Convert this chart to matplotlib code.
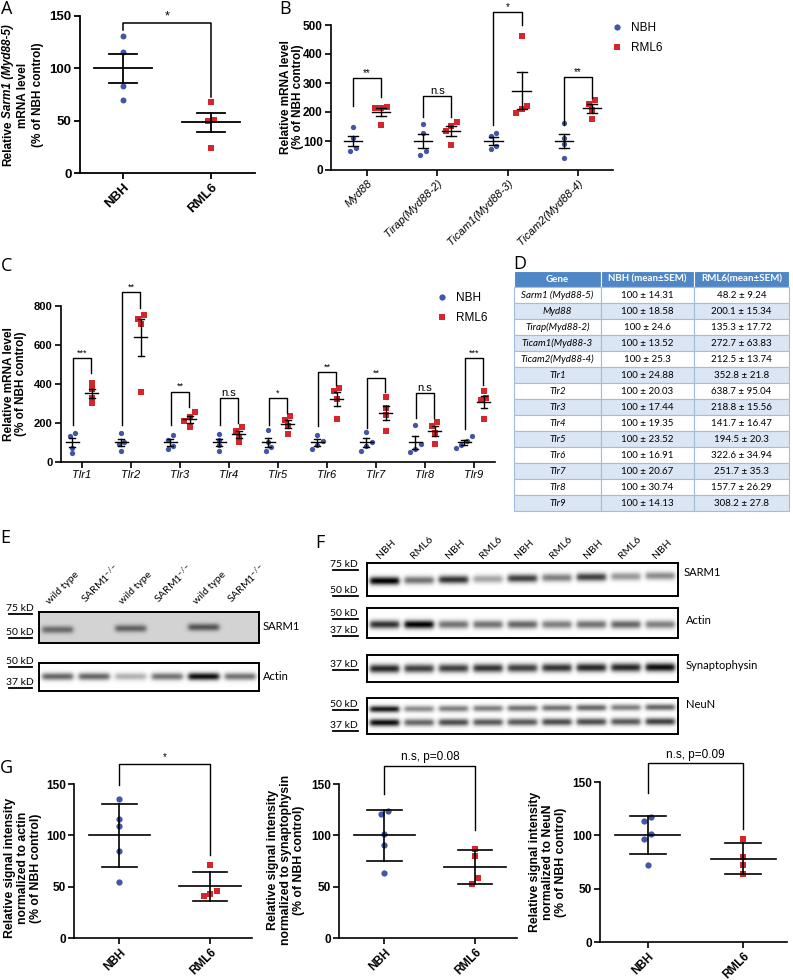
import numpy as np
import matplotlib
matplotlib.use('Agg')
import matplotlib.pyplot as plt
from matplotlib.lines import Line2D

plt.rcParams['font.family'] = ['Liberation Sans', 'DejaVu Sans']
plt.rcParams['mathtext.fontset'] = 'custom'
plt.rcParams['mathtext.rm'] = 'Lato'
plt.rcParams['mathtext.it'] = 'Lato:italic'
plt.rcParams['mathtext.bf'] = 'Lato:bold'

BLUE = '#4355a6'
RED = '#d4262c'

# ---------------- data ----------------
groups = ['NBH', 'RML6']

# A: Sarm1 mRNA
sarm1_nbh = [131, 116, 83, 70]
sarm1_rml6 = [68, 51, 50, 24]

# B: Myd88 family
myd_genes = ['Myd88', 'Tirap(Myd88-2)', 'Ticam1(Myd88-3)', 'Ticam2(Myd88-4)']
myd_nbh = [[147, 112, 77, 64], [157, 126, 64, 53], [128, 116, 82, 74], [162, 110, 88, 40]]
myd_rml6 = [[218, 214, 213, 155], [167, 153, 136, 86], [463, 222, 209, 198], [240, 228, 207, 175]]
myd_sig = ['**', 'n.s', '*', '**']
myd_brk = [(316, 220, 250), (255, 184, 184), (545, 155, 500), (322, 155, 248)]

# C: Toll-like receptors
tlr_genes = ['Tlr1', 'Tlr2', 'Tlr3', 'Tlr4', 'Tlr5', 'Tlr6', 'Tlr7', 'Tlr8', 'Tlr9']
tlr_nbh = [[150, 132, 73, 45], [150, 100, 92, 58], [140, 115, 80, 65], [145, 112, 85, 58],
           [162, 105, 78, 55], [140, 110, 85, 65], [155, 105, 82, 58], [190, 92, 66, 52],
           [135, 110, 85, 70]]
tlr_rml6 = [[405, 375, 330, 301], [755, 735, 708, 357], [255, 232, 210, 178], [178, 160, 129, 100],
            [235, 215, 185, 143], [378, 365, 325, 222], [335, 275, 240, 157], [205, 185, 150, 91],
            [364, 330, 320, 219]]
tlr_sig = ['***', '**', '**', 'n.s', '*', '**', '**', 'n.s', '***']
tlr_brk = [(532, 190, 456), (870, 190, 790), (360, 190, 284), (327, 190, 200), (327, 190, 250),
           (460, 185, 395), (429, 172, 360), (352, 224, 224), (532, 170, 395)]

# D: table
table_header = ['Gene', 'NBH (mean±SEM)', 'RML6(mean±SEM)']
table_genes = ['Sarm1 (Myd88-5)', 'Myd88', 'Tirap(Myd88-2)', 'Ticam1(Myd88-3', 'Ticam2(Myd88-4)',
               'Tlr1', 'Tlr2', 'Tlr3', 'Tlr4', 'Tlr5', 'Tlr6', 'Tlr7', 'Tlr8', 'Tlr9']
table_nbh = ['100 ± 14.31', '100 ± 18.58', '100 ± 24.6', '100 ± 13.52', '100 ± 25.3', '100 ± 24.88',
             '100 ± 20.03', '100 ± 17.44', '100 ± 19.35', '100 ± 23.52', '100 ± 16.91', '100 ± 20.67',
             '100 ± 30.74', '100 ± 14.13']
table_rml6 = ['48.2 ± 9.24', '200.1 ± 15.34', '135.3 ± 17.72', '272.7 ± 63.83', '212.5 ± 13.74',
              '352.8 ± 21.8', '638.7 ± 95.04', '218.8 ± 15.56', '141.7 ± 16.47', '194.5 ± 20.3',
              '322.6 ± 34.94', '251.7 ± 35.3', '157.7 ± 26.29', '308.2 ± 27.8']

# E: blots (band darkness per lane)
e_lanes = ['wild type', 'SARM1$^{-/-}$'] * 3
e_sarm1 = [0.42, 0.0, 0.45, 0.0, 0.5, 0.0]
e_actin = [0.6, 0.6, 0.3, 0.55, 0.95, 0.55]

# F: blots
f_lanes = ['NBH', 'RML6', 'NBH', 'RML6', 'NBH', 'RML6', 'NBH', 'RML6', 'NBH']
f_sarm1 = [1.0, 0.55, 0.8, 0.35, 0.75, 0.5, 0.75, 0.4, 0.45]
f_actin = [0.8, 1.0, 0.55, 0.55, 0.6, 0.5, 0.55, 0.6, 0.5]
f_syn = [0.85, 0.75, 0.75, 0.8, 0.75, 0.8, 0.85, 0.85, 0.95]
f_neun_up = [0.9, 0.45, 0.5, 0.5, 0.55, 0.55, 0.6, 0.5, 0.6]
f_neun_low = [0.95, 0.6, 0.7, 0.65, 0.65, 0.7, 0.7, 0.65, 0.75]

# G: quantification (mean +/- SD)
actin_nbh = [135, 116, 109, 85, 55]
actin_rml6 = [71, 46, 43, 41]
syn_nbh = [124, 121, 101, 91, 63]
syn_rml6 = [87, 80, 58, 53]
neun_nbh = [117, 113, 101, 97, 72]
neun_rml6 = [97, 80, 72, 64]
g_sig = ['*', 'n.s, p=0.08', 'n.s, p=0.09']

# ---------------- helpers ----------------
W, H = 793, 980
fig = plt.figure(figsize=(W / 100, H / 100), dpi=100)


def rect(l, t, r, b):
    return [l / W, 1 - b / H, (r - l) / W, (b - t) / H]


def fx(x):
    return x / W


def fy(y):
    return 1 - y / H


def swarm(vals, thr, step):
    vals = np.asarray(vals, float)
    order = np.argsort(vals)
    off = np.zeros(len(vals))
    grp = [[order[0]]]
    for i in order[1:]:
        if vals[i] - vals[grp[-1][-1]] < thr:
            grp[-1].append(i)
        else:
            grp.append([i])
    for g in grp:
        for j, i in enumerate(g):
            off[i] = (j - (len(g) - 1) / 2) * step
    return off


def dots(ax, x, vals, color, marker, ms, thr, step, half, cap, lw, err='sem'):
    vals = np.asarray(vals, float)
    m = vals.mean()
    e = vals.std(ddof=1)
    if err == 'sem':
        e = e / np.sqrt(len(vals))
    ax.plot(x + swarm(vals, thr, step), vals, ls='', marker=marker, color=color, ms=ms,
            mew=0, zorder=2, clip_on=False)
    ax.plot([x - half, x + half], [m, m], color='k', lw=lw, zorder=3)
    ax.plot([x, x], [m - e, m + e], color='k', lw=lw, zorder=3)
    for yv in (m - e, m + e):
        ax.plot([x - cap, x + cap], [yv, yv], color='k', lw=lw, zorder=3)


def bracket(ax, x0, x1, top, l, r, label, size, pad=0.5, lw=1.0):
    ax.plot([x0, x0, x1, x1], [l, top, top, r], color='k', lw=lw, clip_on=False)
    ax.annotate(label, (0.5 * (x0 + x1), top), xytext=(0, pad), textcoords='offset points',
                ha='center', va='bottom', fontsize=size, annotation_clip=False)


def style(ax, ylim, yticks, lw, tsize):
    for s in ['top', 'right']:
        ax.spines[s].set_visible(False)
    ax.spines['left'].set_linewidth(lw)
    ax.spines['bottom'].set_linewidth(lw)
    ax.set_ylim(ylim)
    ax.set_yticks(yticks)
    ax.tick_params(width=lw, length=4, labelsize=tsize, pad=2)
    for t in ax.get_yticklabels():
        t.set_fontweight('bold')
    ax.patch.set_alpha(0)


def letter(x, y, s):
    fig.text(fx(x), fy(y), s, fontsize=13, family='Open Sans', va='top', ha='left')


def ylab(xc, yc, s, size, ls=1.1):
    fig.text(fx(xc), fy(yc), s, rotation=90, ha='center', va='center', fontsize=size,
             fontweight='bold', linespacing=ls, multialignment='center')


def blot(box, bands, bg=0.0):
    ax = fig.add_axes(rect(*box))
    n = len(bands[0][0])
    xs = np.linspace(0, n, n * 40)
    ys = np.linspace(0, 1, 90)
    X, Y = np.meshgrid(xs, ys)
    img = np.full(X.shape, bg)
    for inten, yc, sy, tilt in bands:
        for i, v in enumerate(inten):
            lane = 1 / (1 + np.exp((np.abs(X - (i + 0.5)) - 0.42) / 0.035))
            c = yc + tilt * (i / (n - 1) - 0.5)
            img += v * lane * np.exp(-((Y - c) / sy) ** 2)
    ax.imshow(np.clip(img, 0, 1), cmap='gray_r', vmin=0, vmax=1, aspect='auto',
              extent=(0, n, 1, 0), interpolation='bilinear')
    ax.set_xticks([])
    ax.set_yticks([])
    for s in ax.spines.values():
        s.set_linewidth(1.4)
    return ax


def kd(x0, x1, y, s):
    fig.text(fx(x0), fy(y - 1), s, fontsize=7.5, family='Lato', ha='left', va='bottom')
    fig.add_artist(Line2D([fx(x0 + 3), fx(x1)], [fy(y), fy(y)], color='k', lw=1.3))


# ---------------- A ----------------
axA = fig.add_axes(rect(80, 16, 255, 173))
dots(axA, 0, sarm1_nbh, BLUE, 'o', 4.3, 6, 0.07, 0.33, 0.16, 1.3)
dots(axA, 1, sarm1_rml6, RED, 's', 4.3, 6, 0.07, 0.33, 0.16, 1.3)
style(axA, (0, 150), [0, 50, 100, 150], 1.3, 9.5)
axA.set_xlim(-0.49, 1.5)
axA.set_xticks([0, 1])
axA.set_xticklabels(groups, rotation=45, ha='right', rotation_mode='anchor',
                    fontweight='bold', fontsize=9.5)
bracket(axA, 0, 1, 143, 137, 73, '*', 9, lw=1.1)
# composite y label with italic gene name
r = fig.canvas.get_renderer()
t1 = fig.text(fx(8), 0, 'Relative', rotation=90, ha='center', va='bottom', fontsize=8.5,
              fontweight='bold')
t2 = fig.text(fx(8), 0, 'Sarm1 (Myd88-5)', rotation=90, ha='center', va='bottom', fontsize=8.5,
              fontweight='bold', fontstyle='italic')
h1 = t1.get_window_extent(r).height
h2 = t2.get_window_extent(r).height
gap = 3
y0 = (H - 95) - (h1 + h2 + gap) / 2
t1.set_y(y0 / H)
t2.set_y((y0 + h1 + gap) / H)
fig.text(fx(23), fy(95), 'mRNA level', rotation=90, ha='center', va='center', fontsize=8.5,
         fontweight='bold')
fig.text(fx(38), fy(95), '(% of NBH control)', rotation=90, ha='center', va='center',
         fontsize=8.5, fontweight='bold')

# ---------------- B ----------------
axB = fig.add_axes(rect(331, 25, 613, 170))
for i in range(len(myd_genes)):
    dots(axB, i - 0.2, myd_nbh[i], BLUE, 'o', 3.8, 18, 0.08, 0.13, 0.07, 1.0)
    dots(axB, i + 0.2, myd_rml6[i], RED, 's', 3.8, 18, 0.08, 0.13, 0.07, 1.0)
    top, l, rr = myd_brk[i]
    bracket(axB, i - 0.2, i + 0.2, top, l, rr, myd_sig[i], 8 if myd_sig[i] == 'n.s' else 7,
            pad=0.0)
style(axB, (0, 500), [0, 100, 200, 300, 400, 500], 1.2, 8.5)
axB.set_xlim(-0.51, 3.5)
axB.set_xticks(range(len(myd_genes)))
axB.set_xticklabels(myd_genes, rotation=45, ha='right', rotation_mode='anchor',
                    fontstyle='italic', fontsize=8)
ylab(292, 97, 'Relative mRNA level\n(% of NBH control)', 8.5)
hB = [Line2D([], [], ls='', marker='o', color=BLUE, ms=4.5, mew=0, label='NBH'),
      Line2D([], [], ls='', marker='s', color=RED, ms=4.5, mew=0, label='RML6')]
fig.legend(handles=hB, loc='upper left', bbox_to_anchor=(fx(610), fy(22)), frameon=False,
           fontsize=8.5, handlelength=1.2, handletextpad=0.6, labelspacing=0.65,
           borderpad=0, borderaxespad=0)

# ---------------- C ----------------
axC = fig.add_axes(rect(61, 306, 495, 462))
for i in range(len(tlr_genes)):
    dots(axC, i - 0.2, tlr_nbh[i], BLUE, 'o', 3.8, 27, 0.11, 0.135, 0.06, 1.0)
    dots(axC, i + 0.2, tlr_rml6[i], RED, 's', 3.8, 27, 0.11, 0.135, 0.06, 1.0)
    top, l, rr = tlr_brk[i]
    bracket(axC, i - 0.19, i + 0.19, top, l, rr, tlr_sig[i], 8 if tlr_sig[i] == 'n.s' else 6.5)
style(axC, (0, 800), [0, 200, 400, 600, 800], 1.2, 8)
axC.set_xlim(-0.43, 8.43)
axC.set_xticks(range(len(tlr_genes)))
axC.set_xticklabels(tlr_genes, fontstyle='italic', fontsize=8)
ylab(15, 384, 'Relative mRNA level\n(% of NBH control)', 8.5)
fig.legend(handles=hB, loc='upper left', bbox_to_anchor=(fx(435), fy(292)), frameon=False,
           fontsize=8.5, handlelength=1.2, handletextpad=0.6, labelspacing=0.7,
           borderpad=0, borderaxespad=0)

# ---------------- D ----------------
axD = fig.add_axes(rect(514, 271, 789, 511))
axD.axis('off')
rows = [[g, a, b] for g, a, b in zip(table_genes, table_nbh, table_rml6)]
tbl = axD.table(cellText=rows, colLabels=table_header, bbox=[0, 0, 1, 1], cellLoc='center',
                colWidths=[87 / 275, 93 / 275, 95 / 275])
tbl.auto_set_font_size(False)
tbl.set_fontsize(7)
for (ri, ci), cell in tbl.get_celld().items():
    cell.set_linewidth(0.8)
    txt = cell.get_text()
    txt.set_family('Lato')
    if ri == 0:
        cell.set_facecolor('#4f86c6')
        cell.set_edgecolor('white')
        txt.set_color('white')
        txt.set_fontweight('bold')
    else:
        cell.set_facecolor('#dbe5f3' if ri % 2 == 0 else 'white')
        cell.set_edgecolor('#a3bde0')
        if ci == 0:
            txt.set_fontstyle('italic')
letter(513, 255, 'D')

# ---------------- E ----------------
blot((39, 612, 259, 643), [(e_sarm1, 0.52, 0.12, -0.1)], bg=0.17)
blot((39, 663, 259, 691), [(e_actin, 0.5, 0.13, 0.0)])
for i, s in enumerate(e_lanes):
    fig.text(fx(51 + 36.7 * i), fy(606), s, rotation=45, rotation_mode='anchor', ha='left',
             va='bottom', fontsize=7.5, family='Lato')
kd(6, 32, 614, '75 kD')
kd(6, 32, 638, '50 kD')
kd(6, 32, 667, '50 kD')
kd(6, 32, 688, '37 kD')
fig.text(fx(263), fy(627), 'SARM1', fontsize=8, family='Lato', va='center')
fig.text(fx(263), fy(677), 'Actin', fontsize=8, family='Lato', va='center')

# ---------------- F ----------------
blot((367, 563, 678, 596), [(f_sarm1, 0.48, 0.12, -0.15)])
blot((367, 608, 678, 638), [(f_actin, 0.55, 0.14, 0.0)])
blot((367, 655, 678, 682), [(f_syn, 0.48, 0.16, -0.05)])
blot((367, 698, 678, 734), [(f_neun_up, 0.3, 0.09, -0.05), (f_neun_low, 0.68, 0.1, -0.03)])
for i, s in enumerate(f_lanes):
    fig.text(fx(381 + 34.6 * i), fy(560), s, rotation=45, rotation_mode='anchor', ha='left',
             va='bottom', fontsize=7.5, family='Lato')
kd(330, 358, 570, '75 kD')
kd(330, 358, 596, '50 kD')
kd(330, 358, 619, '50 kD')
kd(330, 358, 636, '37 kD')
kd(330, 358, 670, '37 kD')
kd(330, 358, 710, '50 kD')
kd(330, 358, 731, '37 kD')
fig.text(fx(684), fy(573), 'SARM1', fontsize=8, family='Lato', va='center')
fig.text(fx(686), fy(620), 'Actin', fontsize=8, family='Lato', va='center')
fig.text(fx(686), fy(665), 'Synaptophysin', fontsize=8, family='Lato', va='center')
fig.text(fx(686), fy(705), 'NeuN', fontsize=8, family='Lato', va='center')

# ---------------- G ----------------
g_data = [(actin_nbh, actin_rml6), (syn_nbh, syn_rml6), (neun_nbh, neun_rml6)]
g_boxes = [(74, 784, 252, 938), (339, 784, 517, 938), (600, 782, 787, 942)]
g_labels = ['Relative signal intensity\nnormalized to actin\n(% of NBH control)',
            'Relative signal intensity\nnormalized to synaptophysin\n(% of NBH control)',
            'Relative signal intensity\nnormalized to NeuN\n(% of NBH control)']
g_lab_pos = [(23, 868), (286, 860), (548, 862)]
g_brk = [(169, 149, 81), (168, 140, 105), (168, 140, 106)]
for k in range(3):
    ax = fig.add_axes(rect(*g_boxes[k]))
    dots(ax, 0, g_data[k][0], BLUE, 'o', 4.5, 6, 0.07, 0.34, 0.19, 1.2, err='sd')
    dots(ax, 1, g_data[k][1], RED, 's', 4.5, 6, 0.07, 0.34, 0.19, 1.2, err='sd')
    style(ax, (0, 150), [0, 50, 100, 150], 1.2, 8.5)
    ax.set_xlim(-0.5, 1.46)
    ax.set_xticks([0, 1])
    ax.set_xticklabels(groups, rotation=45, ha='right', rotation_mode='anchor',
                       fontweight='bold', fontsize=8.5)
    top, l, rr = g_brk[k]
    bracket(ax, 0, 1, top, l, rr, g_sig[k], 7 if k == 0 else 8.5, pad=1.5)
    ylab(g_lab_pos[k][0], g_lab_pos[k][1], g_labels[k], 8.8, ls=1.08)

letter(1, 0, 'A')
letter(279, 0, 'B')
letter(1, 257, 'C')
letter(0, 529, 'E')
letter(315, 534, 'F')
letter(0, 759, 'G')

fig.savefig('out.png', dpi=100)
